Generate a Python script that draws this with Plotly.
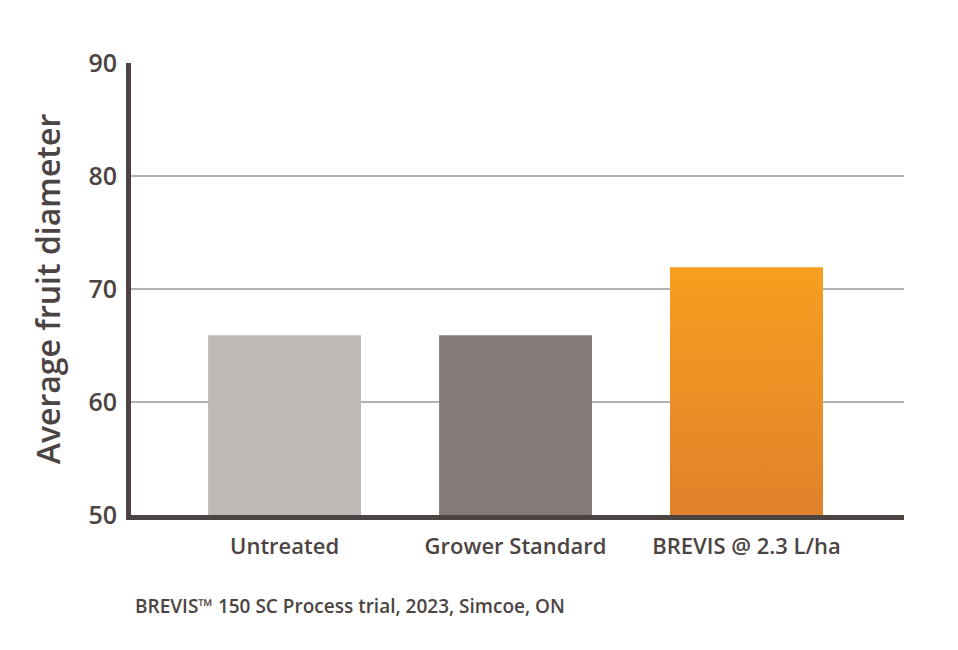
import plotly.graph_objects as go

categories = ["Untreated", "Grower Standard", "BREVIS @ 2.3 L/ha"]
values = [65.9, 65.9, 71.9]
bar_colors = ["#bfb9b8", "#857b79", "#ec9224"]
y_ticks = [50, 60, 70, 80, 90]
y_title = "Average fruit diameter"
footnote = "BREVIS™ 150 SC Process trial, 2023, Simcoe, ON"

dark = "#4b4442"
font_family = "Open Sans"
bar_width = 0.662
y_min, y_max = 50, 90

fig = go.Figure()
fig.add_trace(go.Bar(
    x=list(range(len(categories))),
    y=values,
    width=bar_width,
    marker=dict(color=bar_colors, line=dict(width=0)),
    hoverinfo="skip",
))

# vertical gradient overlay for the highlighted (last) bar, derived from its value
hi = len(categories) - 1
hv = values[hi]
fig.add_trace(go.Scatter(
    x=[hi - bar_width / 2, hi + bar_width / 2, hi + bar_width / 2, hi - bar_width / 2, hi - bar_width / 2],
    y=[y_min, y_min, hv, hv, y_min],
    mode="lines", line=dict(width=0),
    fill="toself",
    fillgradient=dict(type="vertical", colorscale=[[0, "#e0822b"], [1, "#f69f1f"]]),
    hoverinfo="skip",
))

L, R, T, B = 123, 62, 55, 143
fig.update_layout(
    width=958, height=650,
    margin=dict(l=L, r=R, t=T, b=B),
    paper_bgcolor="white", plot_bgcolor="white",
    showlegend=False,
    font=dict(family=font_family, color=dark),
    xaxis=dict(
        range=[-0.665, 2.682],
        tickmode="array",
        tickvals=list(range(len(categories))),
        ticktext=categories,
        tickfont=dict(size=22, weight=600, color=dark),
        showgrid=False,
        showline=True, linecolor=dark, linewidth=5,
        ticks="", ticklen=0, ticklabelstandoff=8,
        zeroline=False,
    ),
    yaxis=dict(
        range=[y_min, y_max],
        tickvals=y_ticks,
        tickfont=dict(size=25, weight=600, color=dark),
        showgrid=True, gridcolor="#b3b0b0", gridwidth=1.5,
        showline=True, linecolor=dark, linewidth=5,
        ticks="", ticklabelstandoff=4,
        zeroline=False,
        title=dict(text=y_title, font=dict(size=32, weight=600, color=dark), standoff=20),
    ),
    annotations=[dict(
        text=footnote,
        x=(125 - L) / (958 - L - R), y=(650 - B - 598) / (650 - T - B),
        xref="paper", yref="paper",
        showarrow=False, xanchor="left", yanchor="middle",
        font=dict(size=19, weight=600, color=dark, family=font_family),
    )],
)
fig.write_html("out.html")
